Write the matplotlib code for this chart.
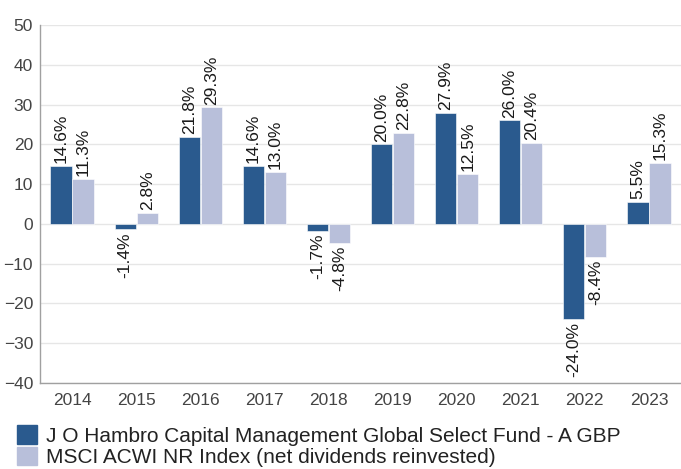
import numpy as np
import matplotlib
matplotlib.use("Agg")
import matplotlib.pyplot as plt
from matplotlib.patches import Patch

plt.rcParams['font.family'] = ['Liberation Sans', 'DejaVu Sans']

# data
years = ['2014', '2015', '2016', '2017', '2018', '2019', '2020', '2021', '2022', '2023']
fund = [14.6, -1.4, 21.8, 14.6, -1.7, 20.0, 27.9, 26.0, -24.0, 5.5]
index = [11.3, 2.8, 29.3, 13.0, -4.8, 22.8, 12.5, 20.4, -8.4, 15.3]
fund_name = 'J O Hambro Capital Management Global Select Fund - A GBP'
index_name = 'MSCI ACWI NR Index (net dividends reinvested)'

dark = '#2a5a8e'
light = '#b8bfda'

fig = plt.figure(figsize=(6.81, 4.69), dpi=100)
ax = fig.add_axes([0.0587, 0.1834, 0.9413, 0.7633])

x = np.arange(len(years))
w = 0.33
off = 0.172
b1 = ax.bar(x - off, fund, w, color=dark, edgecolor='white', linewidth=0.4, zorder=3)
b2 = ax.bar(x + off, index, w, color=light, edgecolor='white', linewidth=0.4, zorder=3)

# value labels, rotated
for bars, vals in [(b1, fund), (b2, index)]:
    for r, v in zip(bars, vals):
        cx = r.get_x() + r.get_width() / 2
        if v >= 0:
            ax.annotate(f'{v:.1f}%', (cx, v), xytext=(0, 2), textcoords='offset points',
                        rotation=90, ha='center', va='bottom', fontsize=12.5, color='#1a1a1a')
        else:
            ax.annotate(f'{v:.1f}%', (cx, v), xytext=(0, -2), textcoords='offset points',
                        rotation=90, ha='center', va='top', fontsize=12.5, color='#1a1a1a')

ax.set_xlim(-0.5, len(years) - 0.5)
ax.set_ylim(-40, 50)
ax.set_yticks(range(-40, 51, 10))
ax.set_xticks(x)
ax.set_xticklabels(years)
ax.tick_params(axis='both', length=0, labelsize=12.5, labelcolor='#444444')
ax.tick_params(axis='x', pad=7)
ax.tick_params(axis='y', pad=5)
ax.grid(axis='y', color='#e6e6e6', linewidth=1, zorder=0)
for s in ['top', 'right']:
    ax.spines[s].set_visible(False)
for s in ['left', 'bottom']:
    ax.spines[s].set_color('#a0a0a0')
    ax.spines[s].set_linewidth(1)

handles = [Patch(color=dark, label=fund_name), Patch(color=light, label=index_name)]
fig.legend(handles=handles, loc='lower left', bbox_to_anchor=(0.012, -0.014),
           frameon=False, fontsize=15, handlelength=1.0, handleheight=1.0,
           handletextpad=0.4, labelspacing=0.05, borderaxespad=0, labelcolor='#222222')

fig.savefig('out.png', dpi=100)
